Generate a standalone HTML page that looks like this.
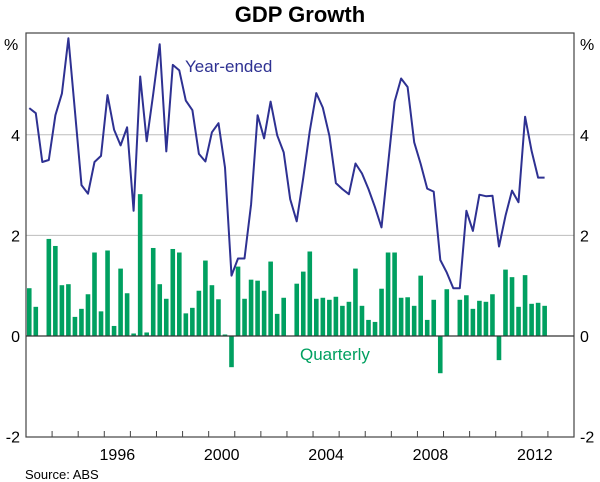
<!DOCTYPE html>
<html><head><meta charset="utf-8"><style>
html,body{margin:0;padding:0;background:#fff;}
svg{display:block;font-family:"Liberation Sans",Arial,sans-serif;}
</style></head><body>
<svg id="chart" width="600" height="482" viewBox="0 0 600 482">
<text x="300" y="22" text-anchor="middle" font-size="22" font-weight="bold" fill="#000">GDP Growth</text>
<g id="grid"></g>
<g id="bars"></g>
<g id="line"></g>
<g id="axes"></g>
<text x="185" y="72" font-size="17" fill="#2e3192">Year-ended</text>
<text x="300" y="360" font-size="17" fill="#00a060">Quarterly</text>
<text x="25" y="479" font-size="13" fill="#000">Source: ABS</text>
</svg>
<script>
const startYear = 1993;
const quarterly = [0.95,0.58,0,1.93,1.79,1.01,1.03,0.38,0.54,0.83,1.66,0.49,1.70,0.2,1.34,0.85,0.05,2.82,0.07,1.75,1.03,0.74,1.73,1.66,0.45,0.56,0.9,1.5,1.01,0.73,0.03,-0.62,1.38,0.74,1.12,1.1,0.9,1.48,0.44,0.76,0,1.04,1.28,1.68,0.74,0.76,0.72,0.78,0.6,0.68,1.34,0.6,0.32,0.28,0.94,1.66,1.66,0.76,0.77,0.6,1.2,0.32,0.72,-0.74,0.93,0,0.72,0.81,0.54,0.7,0.68,0.83,-0.48,1.32,1.17,0.58,1.21,0.64,0.66,0.6];
const yearEnded = [4.53,4.43,3.46,3.5,4.39,4.82,5.92,4.48,3.0,2.83,3.46,3.58,4.79,4.1,3.79,4.15,2.49,5.16,3.87,4.81,5.8,3.67,5.39,5.28,4.68,4.49,3.62,3.47,4.05,4.23,3.35,1.2,1.54,1.54,2.62,4.39,3.93,4.66,3.99,3.65,2.72,2.28,3.15,4.08,4.83,4.54,3.98,3.04,2.92,2.82,3.43,3.23,2.92,2.56,2.16,3.42,4.66,5.12,4.95,3.85,3.42,2.93,2.87,1.51,1.26,0.95,0.95,2.49,2.09,2.81,2.78,2.79,1.78,2.39,2.89,2.66,4.36,3.68,3.15,3.15];
const yTicks = [-2,0,2,4];
const yearLabels = [1996,2000,2004,2008,2012];

const NS="http://www.w3.org/2000/svg";
const L=26, R=574, T=33, B=437;
const x0=1993, x1=2014;
function xScale(t){return L+(t-x0)*(R-L)/(x1-x0);}
function yScale(v){return 336-v*50.3;}
function qx(i){return xScale(startYear+(i+0.5)/4);}
function mk(tag,attrs,parent){const e=document.createElementNS(NS,tag);for(const k in attrs)e.setAttribute(k,attrs[k]);parent.appendChild(e);return e;}

const grid=document.getElementById('grid');
yTicks.forEach(v=>{
  if(v===4||v===2){
    const g=mk('line',{x1:L,x2:R,y1:yScale(v),y2:yScale(v),stroke:'#bdbdbd','stroke-width':1},grid);
    
    
  }
});

const bars=document.getElementById('bars');
quarterly.forEach((v,i)=>{
  const y=Math.min(yScale(v),yScale(0)), h=Math.abs(yScale(v)-yScale(0));
  const r=mk('rect',{x:qx(i)-2.3,y:y,width:4.6,height:h,fill:'#00a060'},bars);
  
  
});

const lg=document.getElementById('line');
const pts=yearEnded.map((v,i)=>qx(i).toFixed(1)+','+yScale(v).toFixed(1)).join(' ');
const pl=mk('polyline',{points:pts,fill:'none',stroke:'#2e3192','stroke-width':2,'stroke-linejoin':'round'},lg);



const ax=document.getElementById('axes');
const fr=mk('rect',{x:L,y:T,width:R-L,height:B-T,fill:'none',stroke:'#444','stroke-width':1.2},ax);


const z=mk('line',{x1:L,x2:R,y1:yScale(0),y2:yScale(0),stroke:'#333','stroke-width':1.2},ax);


for(let yr=x0+1;yr<x1;yr++){
  const t=mk('line',{x1:xScale(yr),x2:xScale(yr),y1:B,y2:B-6,stroke:'#444','stroke-width':1},ax);
  
  
}
yearLabels.forEach(yr=>{
  const t=mk('text',{x:xScale(yr+0.5),y:460,'text-anchor':'middle','font-size':16,fill:'#000'},ax);
  t.textContent=yr;
  
  
});
yTicks.forEach(v=>{
  const a=mk('text',{x:20,y:yScale(v)+6,'text-anchor':'end','font-size':16,fill:'#000'},ax);
  a.textContent=v;
  
  
  const b=mk('text',{x:580,y:yScale(v)+6,'text-anchor':'start','font-size':16,fill:'#000'},ax);
  b.textContent=v;
  
  
});
const p1=mk('text',{x:4,y:50,'font-size':16,fill:'#000'},ax);p1.textContent='%';


const p2=mk('text',{x:580,y:50,'font-size':16,fill:'#000'},ax);p2.textContent='%';


</script>
</body></html>
